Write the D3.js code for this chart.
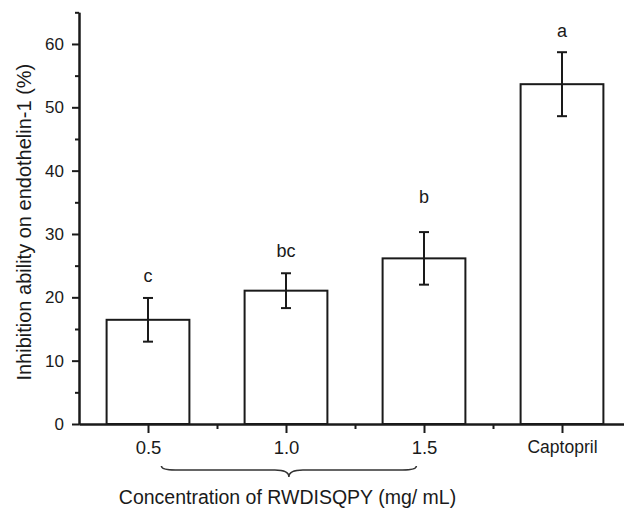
<!DOCTYPE html>
<html>
<head>
<meta charset="utf-8">
<script src="https://cdn.jsdelivr.net/npm/d3@7"></script>
<style>
  html, body { margin: 0; padding: 0; background: #fff; }
  svg { display: block; font-family: "Liberation Sans", Arial, sans-serif; }
</style>
</head>
<body>
<svg id="chart" width="624" height="508"></svg>
<script>
// ---- data ----
const categories = ["0.5", "1.0", "1.5", "Captopril"];
const means = [16.45, 21.05, 26.15, 53.65];
const errors = [3.45, 2.75, 4.15, 5.05];
const letters = ["c", "bc", "b", "a"];
const letterLevels = [22.35, 26.4, 34.95, 61.15]; // baseline of the significance letters, in % units
const yMajorTicks = [0, 10, 20, 30, 40, 50, 60];
const yMinorTicks = [5, 15, 25, 35, 45, 55, 65];
const bracedGroup = [0, 2]; // categories under the brace (indices)
const yTitle = "Inhibition ability on endothelin-1 (%)";
const xTitle = "Concentration of RWDISQPY (mg/ mL)";

// ---- layout ----
const svg = d3.select("#chart");
const ink = "#1a1a1a";
const x = d3.scaleLinear().domain([-0.5, 3.5]).range([79, 631]);
const y = d3.scaleLinear().domain([0, 65]).range([424, 12.3]);
const barW = x(0.6) - x(0);

// bars
svg.append("g").selectAll("rect").data(means).join("rect")
  .attr("x", (d, i) => x(i) - barW / 2)
  .attr("y", d => y(d))
  .attr("width", barW)
  .attr("height", d => y(0) - y(d))
  .attr("fill", "#fff")
  .attr("stroke", ink)
  .attr("stroke-width", 2);

// error bars
const eb = svg.append("g").attr("stroke", ink).attr("stroke-width", 2);
means.forEach((m, i) => {
  const cx = x(i), capW = 5;
  eb.append("line").attr("x1", cx).attr("x2", cx).attr("y1", y(m + errors[i])).attr("y2", y(m - errors[i]));
  eb.append("line").attr("x1", cx - capW).attr("x2", cx + capW).attr("y1", y(m + errors[i])).attr("y2", y(m + errors[i]));
  eb.append("line").attr("x1", cx - capW).attr("x2", cx + capW).attr("y1", y(m - errors[i])).attr("y2", y(m - errors[i]));
});

// significance letters
svg.append("g").selectAll("text").data(letters).join("text")
  .attr("x", (d, i) => x(i))
  .attr("y", (d, i) => y(letterLevels[i]))
  .attr("text-anchor", "middle")
  .attr("font-size", 18)
  .attr("fill", ink)
  .text(d => d);

// y axis
const yMajor = d3.axisLeft(y).tickValues(yMajorTicks).tickSize(7).tickPadding(8).tickSizeOuter(0);
const yMinor = d3.axisLeft(y).tickValues(yMinorTicks).tickSize(4).tickFormat("").tickSizeOuter(0);
const gyMin = svg.append("g").attr("transform", `translate(${x(-0.5)},0)`).call(yMinor);
const gy = svg.append("g").attr("transform", `translate(${x(-0.5)},0)`).call(yMajor);
[gy, gyMin].forEach(g => {
  g.select(".domain").attr("stroke", ink).attr("stroke-width", 2);
  g.selectAll(".tick line").attr("stroke", ink).attr("stroke-width", 2);
});
gy.selectAll(".tick text").attr("font-size", 17).attr("fill", ink).attr("font-family", "Liberation Sans, Arial, sans-serif");

// x axis
const xMajor = d3.axisBottom(x).tickValues(categories.map((c, i) => i)).tickFormat((d) => categories[d])
  .tickSize(9).tickPadding(8).tickSizeOuter(0);
const xMinor = d3.axisBottom(x).tickValues(categories.slice(1).map((c, i) => i + 0.5)).tickSize(5).tickFormat("").tickSizeOuter(0);
const gxMin = svg.append("g").attr("transform", `translate(0,${y(0)})`).call(xMinor);
const gx = svg.append("g").attr("transform", `translate(0,${y(0)})`).call(xMajor);
[gx, gxMin].forEach(g => {
  g.select(".domain").attr("stroke", ink).attr("stroke-width", 2);
  g.selectAll(".tick line").attr("stroke", ink).attr("stroke-width", 2);
});
gx.selectAll(".tick text").attr("font-size", 18.5).attr("fill", ink).attr("font-family", "Liberation Sans, Arial, sans-serif");
gx.selectAll(".tick text").filter(d => d === 3).attr("font-size", 17.5);

// brace under the first three categories
const bx1 = x(bracedGroup[0] + 0.097), bx2 = x(bracedGroup[1] - 0.055);
const bxc = (bx1 + bx2) / 2;
const yTop = 466, yMid = 470, yTip = 477, r = 14;
const bracePath = `M${bx1},${yTop} Q${bx1},${yMid} ${bx1 + r},${yMid} L${bxc - r},${yMid} Q${bxc},${yMid} ${bxc},${yTip} Q${bxc},${yMid} ${bxc + r},${yMid} L${bx2 - r},${yMid} Q${bx2},${yMid} ${bx2},${yTop}`;
svg.append("path").attr("d", bracePath).attr("fill", "none").attr("stroke", "#333").attr("stroke-width", 1.5);

// axis titles
svg.append("text")
  .attr("x", 287.5).attr("y", 504)
  .attr("text-anchor", "middle")
  .attr("font-size", 19.5)
  .attr("fill", ink)
  .text(xTitle);

svg.append("text")
  .attr("transform", `translate(31,${y(32.5) + 4}) rotate(-90)`)
  .attr("text-anchor", "middle")
  .attr("font-size", 20)
  .attr("fill", ink)
  .text(yTitle);
</script>
</body>
</html>
